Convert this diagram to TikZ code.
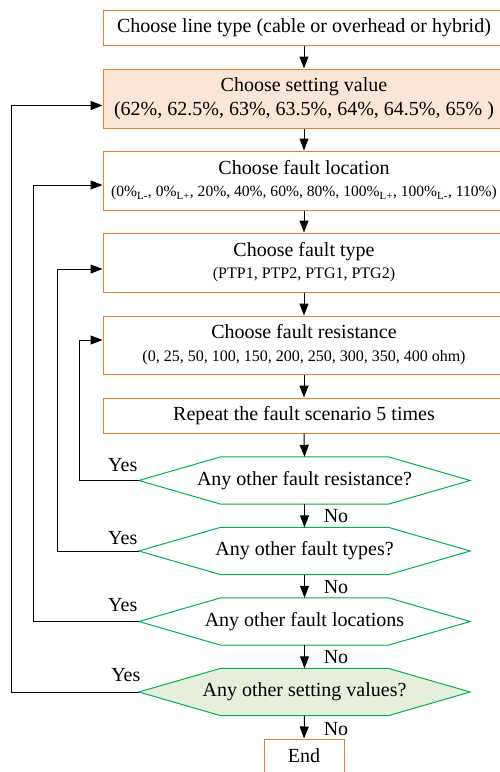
\documentclass[tikz,border=0pt]{standalone}
\usepackage{fontspec}
\setmainfont{Liberation Serif}
\usetikzlibrary{arrows.meta,calc}
\definecolor{boxorange}{HTML}{ED7D31}
\definecolor{boxfill}{HTML}{FBE5D6}
\definecolor{hexgreen}{HTML}{00B050}
\definecolor{hexfill}{HTML}{E6EEDC}
\begin{document}
\begin{tikzpicture}[x=1pt,y=-1pt,
  every node/.style={font=\fontsize{20}{24}\selectfont, inner sep=0pt},
  stepbox/.style={draw=boxorange, line width=1pt, rectangle, minimum width=402pt, align=center},
  hexnode/.style={rectangle, minimum width=331pt, minimum height=47pt},
  hexline/.style={draw=hexgreen, line width=1pt},
  arr/.style={draw=black, line width=1pt, -{Triangle[length=12pt,width=9pt]}}]
\useasboundingbox (0,0) rectangle (499,772);

% process boxes
\node[stepbox, minimum height=35pt] (b1) at (304,27.5) {Choose line type (cable or overhead or hybrid)};
\node[stepbox, fill=boxfill, minimum height=59pt] (b2) at (304,98.5) {Choose setting value\\(62\%, 62.5\%, 63\%, 63.5\%, 64\%, 64.5\%, 65\% )};
\node[stepbox, minimum height=59pt] (b3) at (304,180.5) {Choose fault location\\[-2pt]{\fontsize{15.6}{19}\selectfont (0\%\textsubscript{L-}, 0\%\textsubscript{L+}, 20\%, 40\%, 60\%, 80\%, 100\%\textsubscript{L+}, 100\%\textsubscript{L-}, 110\%)}};
\node[stepbox, minimum height=59pt] (b4) at (304,262.5) {Choose fault type\\[-2pt]{\fontsize{16}{19}\selectfont (PTP1, PTP2, PTG1, PTG2)}};
\node[stepbox, minimum height=58pt] (b5) at (304,345) {Choose fault resistance\\[-1pt]{\fontsize{16}{19}\selectfont (0, 25, 50, 100, 150, 200, 250, 300, 350, 400 ohm)}};
\node[stepbox, minimum height=35pt] (b6) at (304,415.5) {Repeat the fault scenario 5 times};

% decision hexagons
\node[hexnode] (h1) at (304.5,480.5) {};
\node[hexnode] (h2) at (304.5,551) {};
\node[hexnode] (h3) at (304.5,621.5) {};
\node[hexnode] (h4) at (304.5,692) {};
\foreach \h/\f in {h1/none,h2/none,h3/none,h4/hexfill}{
  \path[hexline, fill=\f] (\h.west) -- ($(\h.north west)+(82,0)$) -- ($(\h.north east)+(-82,0)$) -- (\h.east)
    -- ($(\h.south east)+(-82,0)$) -- ($(\h.south west)+(82,0)$) -- cycle;
}
\node (t1) at (h1) {Any other fault resistance?};
\node (t2) at (h2) {Any other fault types?};
\node (t3) at (h3) {Any other fault locations};
\node (t4) at (h4) {Any other setting values?};

% end box
\node[draw=boxorange, line width=1pt, minimum width=80pt, minimum height=34pt, text depth=0pt] (e) at (304,756) {End};

% main flow
\draw[arr] (b1.south) -- (b2.north);
\draw[arr] (b2.south) -- (b3.north);
\draw[arr] (b3.south) -- (b4.north);
\draw[arr] (b4.south) -- (b5.north);
\draw[arr] (b5.south) -- (b6.north);
\draw[arr] (b6.south) -- (h1.north);
\draw[arr] (h1.south) -- (h2.north);
\draw[arr] (h2.south) -- (h3.north);
\draw[arr] (h3.south) -- (h4.north);
\draw[arr] (h4.south) -- (e.north);

% loops back
\draw[arr] (h1.west) -- ++(-59,0) |- ([yshift=5pt]b5.west);
\draw[arr] (h2.west) -- ++(-81,0) |- ([yshift=-6.5pt]b4.west);
\draw[arr] (h3.west) -- ++(-105,0) |- ([yshift=-4.5pt]b3.west);
\draw[arr] (h4.west) -- ++(-127,0) |- ([yshift=-7pt]b2.west);

% labels
\node (y1) at ($(h1.west)+(-16,-15)$) {Yes};
\node (y2) at ($(h2.west)+(-16,-13)$) {Yes};
\node (y3) at ($(h3.west)+(-16,-16)$) {Yes};
\node (y4) at ($(h4.west)+(-13,-17)$) {Yes};
\node (n1) at ($(h1.south)+(31.5,12)$) {No};
\node (n2) at ($(h2.south)+(31.5,12)$) {No};
\node (n3) at ($(h3.south)+(31.5,12)$) {No};
\node (n4) at ($(h4.south)+(31.5,13)$) {No};
\end{tikzpicture}
\end{document}
